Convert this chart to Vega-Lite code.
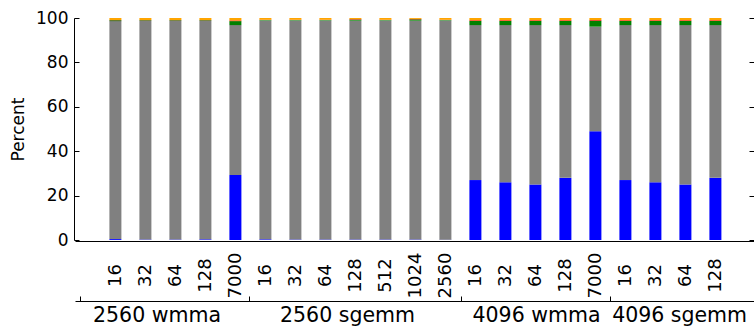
{
  "$schema": "https://vega.github.io/schema/vega-lite/v6.json",
  "width": 679,
  "height": 222,
  "autosize": "none",
  "padding": {"left": 75, "top": 18, "right": 0, "bottom": 88},
  "config": {
    "font": "DejaVu Sans",
    "view": {"stroke": null},
    "axis": {"grid": false, "domainColor": "#000000", "tickColor": "#000000", "labelColor": "#000000", "titleColor": "#000000"}
  },
  "data": {"values": [
    {"i": 0, "group": "2560 wmma", "label": "16", "s1": 0.4, "s2": 98.2, "s3": 0.4, "s4": 0.1, "s5": 0.9},
    {"i": 1, "group": "2560 wmma", "label": "32", "s1": 0.2, "s2": 98.5, "s3": 0.3, "s4": 0.1, "s5": 0.9},
    {"i": 2, "group": "2560 wmma", "label": "64", "s1": 0.2, "s2": 98.5, "s3": 0.3, "s4": 0.1, "s5": 0.9},
    {"i": 3, "group": "2560 wmma", "label": "128", "s1": 0.3, "s2": 98.4, "s3": 0.3, "s4": 0.1, "s5": 0.9},
    {"i": 4, "group": "2560 wmma", "label": "7000", "s1": 29.3, "s2": 67.5, "s3": 1.8, "s4": 0.3, "s5": 1.1},
    {"i": 5, "group": "2560 sgemm", "label": "16", "s1": 0.3, "s2": 98.6, "s3": 0.2, "s4": 0.1, "s5": 0.8},
    {"i": 6, "group": "2560 sgemm", "label": "32", "s1": 0.2, "s2": 98.7, "s3": 0.2, "s4": 0.1, "s5": 0.8},
    {"i": 7, "group": "2560 sgemm", "label": "64", "s1": 0.2, "s2": 98.7, "s3": 0.2, "s4": 0.1, "s5": 0.8},
    {"i": 8, "group": "2560 sgemm", "label": "128", "s1": 0.2, "s2": 98.6, "s3": 0.5, "s4": 0.2, "s5": 0.5},
    {"i": 9, "group": "2560 sgemm", "label": "512", "s1": 0.2, "s2": 98.7, "s3": 0.2, "s4": 0.1, "s5": 0.8},
    {"i": 10, "group": "2560 sgemm", "label": "1024", "s1": 0.2, "s2": 98.6, "s3": 0.6, "s4": 0.2, "s5": 0.4},
    {"i": 11, "group": "2560 sgemm", "label": "2560", "s1": 0.1, "s2": 98.8, "s3": 0.2, "s4": 0.1, "s5": 0.8},
    {"i": 12, "group": "4096 wmma", "label": "16", "s1": 27.0, "s2": 69.8, "s3": 1.9, "s4": 0.3, "s5": 1.0},
    {"i": 13, "group": "4096 wmma", "label": "32", "s1": 26.0, "s2": 70.8, "s3": 1.9, "s4": 0.3, "s5": 1.0},
    {"i": 14, "group": "4096 wmma", "label": "64", "s1": 25.0, "s2": 71.8, "s3": 1.9, "s4": 0.3, "s5": 1.0},
    {"i": 15, "group": "4096 wmma", "label": "128", "s1": 28.0, "s2": 68.8, "s3": 1.9, "s4": 0.3, "s5": 1.0},
    {"i": 16, "group": "4096 wmma", "label": "7000", "s1": 49.0, "s2": 47.1, "s3": 2.7, "s4": 0.3, "s5": 0.9},
    {"i": 17, "group": "4096 sgemm", "label": "16", "s1": 27.0, "s2": 69.8, "s3": 1.9, "s4": 0.3, "s5": 1.0},
    {"i": 18, "group": "4096 sgemm", "label": "32", "s1": 26.0, "s2": 70.8, "s3": 1.9, "s4": 0.3, "s5": 1.0},
    {"i": 19, "group": "4096 sgemm", "label": "64", "s1": 25.0, "s2": 71.8, "s3": 1.9, "s4": 0.3, "s5": 1.0},
    {"i": 20, "group": "4096 sgemm", "label": "128", "s1": 28.0, "s2": 68.8, "s3": 1.9, "s4": 0.3, "s5": 1.0}
  ]},
  "transform": [{"fold": ["s1", "s2", "s3", "s4", "s5"], "as": ["seg", "pct"]}],
  "layer": [
    {
      "mark": {"type": "bar", "width": 12},
      "encoding": {
        "x": {
          "field": "i", "type": "quantitative",
          "scale": {"domain": [-1.18, 21.12], "nice": false, "zero": false},
          "axis": {
            "orient": "bottom", "title": null, "offset": 1,
            "domain": true, "domainColor": "#000000", "domainWidth": 1,
            "values": [0,1,2,3,4,5,6,7,8,9,10,11,12,13,14,15,16,17,18,19,20],
            "labelExpr": "['16','32','64','128','7000','16','32','64','128','512','1024','2560','16','32','64','128','7000','16','32','64','128'][datum.value]",
            "ticks": false, "tickSize": 0,
            "labelAngle": 270, "labelAlign": "center", "labelBaseline": "middle",
            "labelPadding": 34, "labelFontSize": 18, "labelFlush": false, "labelOverlap": false
          }
        },
        "y": {
          "field": "pct", "type": "quantitative", "stack": "zero",
          "scale": {"domain": [0, 100], "nice": false},
          "axis": {
            "orient": "left", "title": "Percent", "titleFontSize": 17, "titleFontWeight": "normal",
            "titlePadding": 8, "offset": 1,
            "domain": true, "domainColor": "#000000", "domainWidth": 1,
            "values": [0, 20, 40, 60, 80, 100],
            "tickSize": -5, "labelPadding": 11, "labelFontSize": 17
          }
        },
        "color": {
          "field": "seg", "type": "nominal",
          "scale": {"domain": ["s1", "s2", "s3", "s4", "s5"], "range": ["#0000ff", "#808080", "#008000", "#ff0000", "#ffa500"]},
          "legend": null
        },
        "order": {"field": "seg", "sort": "ascending"}
      }
    },
    {
      "mark": {"type": "point", "opacity": 0},
      "encoding": {
        "y": {
          "field": "pct", "type": "quantitative",
          "scale": {"domain": [0, 100], "nice": false},
          "axis": {"orient": "right", "title": null, "labels": false, "domain": false, "values": [0, 20, 40, 60, 80, 100], "tickSize": -5}
        }
      }
    },
    {
      "data": {"values": [
        {"group": "2560 wmma", "c": 1.37},
        {"group": "2560 sgemm", "c": 7.72},
        {"group": "4096 wmma", "c": 14.02},
        {"group": "4096 sgemm", "c": 18.79}
      ]},
      "transform": [],
      "mark": {"type": "point", "opacity": 0},
      "encoding": {
        "x": {
          "field": "c", "type": "quantitative",
          "scale": {"domain": [-1.18, 21.12], "nice": false, "zero": false},
          "axis": {
            "orient": "bottom", "offset": 61, "title": null, "domain": false,
            "values": [1.37, 7.72, 14.02, 18.79],
            "labelExpr": "datum.value < 3 ? '2560 wmma' : datum.value < 10 ? '2560 sgemm' : datum.value < 16 ? '4096 wmma' : '4096 sgemm'",
            "ticks": false, "tickSize": 0, "labelPadding": 4, "labelFontSize": 20.5,
            "labelAngle": 0, "labelAlign": "center", "labelBaseline": "top", "labelFlush": false, "labelOverlap": false
          }
        }
      }
    },
    {
      "data": {"values": [{"b": -1.18}, {"b": 4.45}, {"b": 11.52}, {"b": 16.5}]},
      "transform": [],
      "mark": {"type": "point", "opacity": 0},
      "encoding": {
        "x": {
          "field": "b", "type": "quantitative",
          "scale": {"domain": [-1.18, 21.12], "nice": false, "zero": false},
          "axis": {
            "orient": "bottom", "offset": 61, "title": null, "labels": false,
            "values": [-1.18, 4.45, 11.52, 16.5], "tickSize": -5
          }
        }
      }
    }
  ],
  "resolve": {"axis": {"x": "independent", "y": "independent"}}
}
